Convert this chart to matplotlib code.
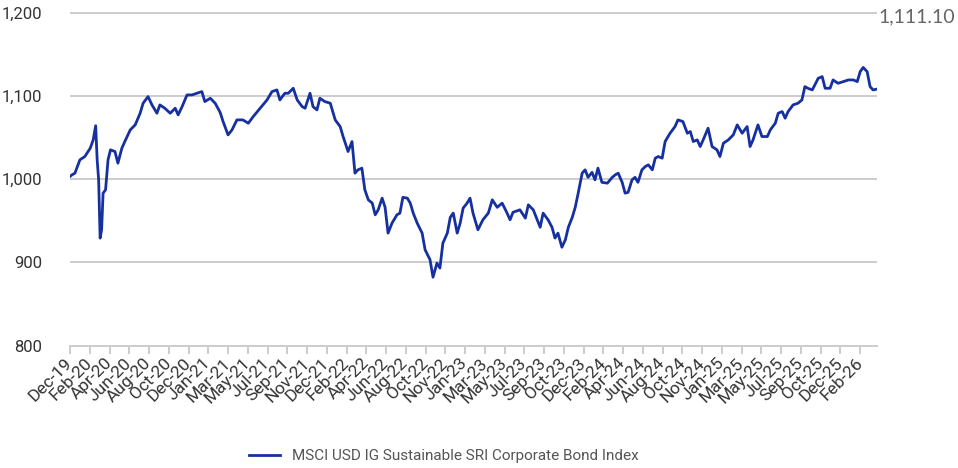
import matplotlib.pyplot as plt
from matplotlib.transforms import ScaledTranslation

plt.rcParams['font.family'] = ['Roboto', 'DejaVu Sans']

# business days since 2019-12-31 and index level
day = [0, 4, 10, 20, 30, 41, 47, 52, 55, 58, 61, 64, 67, 72, 77, 82, 91, 97, 105, 111,
       122, 132, 142, 148, 158, 166, 176, 182, 192, 203, 213, 219, 227, 237, 247, 257,
       267, 273, 284, 294, 304, 310, 320, 328, 338, 350, 361, 371, 385, 399, 409, 419,
       425, 435, 442, 452, 460, 470, 476, 486, 492, 500, 506, 516, 527, 537, 547, 553,
       563, 571, 577, 583, 591, 597, 604, 612, 618, 624, 632, 638, 644, 652, 662, 668,
       674, 683, 689, 695, 703, 713, 719, 729, 735, 743, 749, 755, 764, 770, 776, 784,
       790, 796, 804, 810, 816, 826, 836, 847, 855, 865, 875, 885, 891, 897, 911, 922,
       928, 938, 946, 952, 958, 968, 976, 982, 988, 996, 1003, 1009, 1017, 1023, 1029,
       1037, 1043, 1049, 1057, 1063, 1069, 1077, 1088, 1098, 1104, 1110, 1118, 1124,
       1130, 1138, 1144, 1150, 1158, 1165, 1171, 1179, 1185, 1191, 1199, 1205, 1215,
       1225, 1231, 1241, 1250, 1256, 1262, 1270, 1276, 1282, 1292, 1300, 1310, 1316,
       1323, 1333, 1343, 1351, 1361, 1371, 1377, 1383, 1393, 1401, 1412, 1418, 1428,
       1434, 1442, 1448, 1454, 1464, 1474, 1482, 1488, 1494, 1503, 1515, 1523, 1529,
       1539, 1545, 1555, 1566, 1576, 1586, 1594, 1600, 1606, 1614, 1620, 1626, 1634]
value = [1003, 1005, 1007, 1023, 1027, 1037, 1047, 1064, 1023, 999, 929, 939, 983, 987,
         1023, 1035, 1033, 1019, 1037, 1045, 1059, 1065, 1079, 1091, 1099, 1089, 1079,
         1089, 1085, 1079, 1085, 1077, 1087, 1101, 1101, 1103, 1105, 1093, 1097, 1091,
         1080, 1069, 1053, 1059, 1071, 1071, 1067, 1075, 1085, 1095, 1105, 1107, 1095,
         1103, 1103, 1109, 1095, 1087, 1085, 1103, 1087, 1083, 1097, 1093, 1091, 1071,
         1063, 1051, 1033, 1045, 1007, 1011, 1013, 987, 975, 971, 957, 963, 977, 966,
         935, 947, 957, 959, 978, 977, 971, 959, 947, 935, 915, 903, 882, 899, 893, 923,
         935, 954, 959, 935, 947, 965, 971, 977, 959, 939, 951, 959, 975, 966, 971, 959,
         951, 960, 963, 953, 969, 963, 951, 942, 959, 951, 942, 929, 935, 918, 927, 942,
         954, 966, 983, 1007, 1011, 1002, 1008, 999, 1013, 996, 995, 1002, 1005, 1007,
         996, 983, 984, 999, 1002, 996, 1011, 1015, 1017, 1011, 1025, 1027, 1025, 1045,
         1055, 1063, 1071, 1069, 1055, 1057, 1045, 1047, 1039, 1047, 1061, 1039, 1035,
         1027, 1043, 1047, 1053, 1065, 1055, 1063, 1039, 1047, 1065, 1051, 1051, 1059,
         1067, 1079, 1081, 1073, 1081, 1089, 1091, 1095, 1111, 1109, 1107, 1121, 1123,
         1109, 1109, 1119, 1115, 1117, 1119, 1119, 1117, 1129, 1134, 1129, 1111, 1107,
         1108]

tick_step = 40
tick_labels = ["Dec-19", "Feb-20", "Apr-20", "Jun-20", "Aug-20", "Oct-20", "Dec-20",
               "Jan-21", "Mar-21", "May-21", "Jul-21", "Sep-21", "Nov-21", "Dec-21",
               "Feb-22", "Apr-22", "Jun-22", "Aug-22", "Oct-22", "Nov-22", "Jan-23",
               "Mar-23", "May-23", "Jul-23", "Sep-23", "Oct-23", "Dec-23", "Feb-24",
               "Apr-24", "Jun-24", "Aug-24", "Oct-24", "Nov-24", "Jan-25", "Mar-25",
               "May-25", "Jul-25", "Sep-25", "Oct-25", "Dec-25", "Feb-26"]
yticks = [800, 900, 1000, 1100, 1200]
last_label = "1,111.10"
series_name = "MSCI USD IG Sustainable SRI Corporate Bond Index"

grid_c = '#cccccc'
line_c = '#1630a0'

fig = plt.figure(figsize=(9.58, 4.68), dpi=100)
ax = fig.add_axes([70 / 958, 122.5 / 468, 807 / 958, 333 / 468])

for y in yticks[1:]:
    ax.axhline(y, color=grid_c, linewidth=1.4, zorder=1)

ax.plot(day, value, color=line_c, linewidth=2.0, zorder=3, label=series_name)

ax.set_xlim(0, 1634)
ax.set_ylim(800, 1200)

ax.set_yticks(yticks)
ax.set_yticklabels([f"{v:,}" for v in yticks])
ax.set_xticks([i * tick_step for i in range(len(tick_labels))])
ax.set_xticklabels(tick_labels, rotation=45, ha='right', va='center',
                   rotation_mode='anchor')
shift = ScaledTranslation(-4 / 72, -2 / 72, fig.dpi_scale_trans)
for lab in ax.get_xticklabels():
    lab.set_transform(lab.get_transform() + shift)

for s in ['left', 'right', 'top']:
    ax.spines[s].set_visible(False)
ax.spines['bottom'].set_color(grid_c)
ax.spines['bottom'].set_linewidth(1.4)

ax.tick_params(axis='y', length=0, pad=20, labelsize=12, labelcolor='#333333')
ax.tick_params(axis='x', length=6, width=1.4, color=grid_c, pad=5,
               labelsize=12.5, labelcolor='#333333')

fig.text(878 / 958, 1 - 17 / 468, last_label, ha='left', va='center',
         fontsize=14, color='#666666', family=['Lato', 'DejaVu Sans'])

fig.legend(loc='center', bbox_to_anchor=(444 / 958, 1 - 456 / 468), frameon=False,
           fontsize=11, handlelength=2.0, handletextpad=0.8, labelcolor='#555555')

fig.savefig('out.png', dpi=100)
